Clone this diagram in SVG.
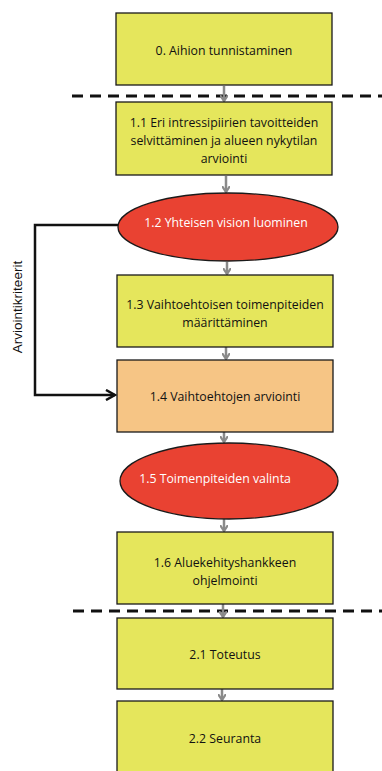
<svg xmlns="http://www.w3.org/2000/svg" width="382" height="771" viewBox="0 0 382 771">
  <style>
    .box { fill: #e5e65c; stroke: #1a1a1a; stroke-width: 1.3; }
    .eval { fill: #f6c585; stroke: #1a1a1a; stroke-width: 1.3; }
    .oval { fill: #e94232; stroke: #1a1a1a; stroke-width: 1.3; }
    .lbl { font-family: "Open Sans", "Liberation Sans", sans-serif; font-size: 12.3px; fill: #111; text-anchor: middle; }
    .wlbl { font-family: "Open Sans", "Liberation Sans", sans-serif; font-size: 12.3px; fill: #fff; text-anchor: middle; }
    .side { font-family: "Liberation Sans", Arial, sans-serif; font-size: 13.5px; fill: #111; text-anchor: middle; }
    .flow { stroke: #8a8a8a; stroke-width: 2.5; fill: none; marker-end: url(#grayHead); }
    .phase { stroke: #111; stroke-width: 3; stroke-dasharray: 11 7; fill: none; }
    .feedback { stroke: #111; stroke-width: 2.5; fill: none; marker-end: url(#blackHead); }
  </style>
  <defs>
    <marker id="grayHead" markerWidth="8" markerHeight="8" refX="6" refY="4" orient="auto" markerUnits="userSpaceOnUse">
      <path d="M0,0 L6,4 L0,8" fill="none" stroke="#8a8a8a" stroke-width="2.2"/>
    </marker>
    <marker id="blackHead" markerWidth="12" markerHeight="12" refX="10" refY="6" orient="auto" markerUnits="userSpaceOnUse">
      <path d="M1,1 L10,6 L1,11" fill="none" stroke="#111" stroke-width="2.5"/>
    </marker>
  </defs>

  <!-- phase separators -->
  <line class="phase" x1="72" y1="96" x2="382" y2="96"/>
  <line class="phase" x1="73" y1="611" x2="382" y2="611"/>

  <!-- connectors -->
  <g id="connectors">
    <line class="flow" x1="224" y1="86" x2="224" y2="101"/>
    <line class="flow" x1="226" y1="176" x2="226" y2="192"/>
    <line class="flow" x1="227" y1="262" x2="227" y2="274"/>
    <line class="flow" x1="226" y1="347" x2="226" y2="359"/>
    <line class="flow" x1="224" y1="432" x2="224" y2="442"/>
    <line class="flow" x1="224" y1="519" x2="224" y2="531"/>
    <line class="flow" x1="223" y1="604" x2="223" y2="617"/>
    <line class="flow" x1="222" y1="689" x2="222" y2="700"/>
    <polyline class="feedback" points="118,225 35,225 35,395 115,395"/>
    <text class="side" transform="translate(22,307) rotate(-90)">Arviointikriteerit</text>
  </g>

  <g id="n0">
    <rect class="box" x="116" y="13" width="216" height="72"/>
    <text class="lbl" x="224" y="55">0. Aihion tunnistaminen</text>
  </g>

  <g id="n1_1">
    <rect class="box" x="116" y="102" width="216" height="73"/>
    <text class="lbl" x="224" y="127">1.1 Eri intressipiirien tavoitteiden</text>
    <text class="lbl" x="224" y="145">selvittäminen ja alueen nykytilan</text>
    <text class="lbl" x="224" y="163">arviointi</text>
  </g>

  <g id="n1_2">
    <ellipse class="oval" cx="228" cy="227" rx="110" ry="34"/>
    <text class="wlbl" x="226" y="227">1.2 Yhteisen vision luominen</text>
  </g>

  <g id="n1_3">
    <rect class="box" x="117" y="275" width="216" height="72"/>
    <text class="lbl" x="225" y="309">1.3 Vaihtoehtoisen toimenpiteiden</text>
    <text class="lbl" x="225" y="327">määrittäminen</text>
  </g>

  <g id="n1_4">
    <rect class="eval" x="117" y="360" width="216" height="72"/>
    <text class="lbl" x="225" y="401">1.4 Vaihtoehtojen arviointi</text>
  </g>

  <g id="n1_5">
    <ellipse class="oval" cx="229" cy="481" rx="109" ry="38"/>
    <text class="wlbl" x="215" y="483">1.5 Toimenpiteiden valinta</text>
  </g>

  <g id="n1_6">
    <rect class="box" x="117" y="532" width="216" height="72"/>
    <text class="lbl" x="225" y="567">1.6 Aluekehityshankkeen</text>
    <text class="lbl" x="225" y="585">ohjelmointi</text>
  </g>

  <g id="n2_1">
    <rect class="box" x="117" y="618" width="216" height="71"/>
    <text class="lbl" x="225" y="659">2.1 Toteutus</text>
  </g>

  <g id="n2_2">
    <rect class="box" x="117" y="701" width="216" height="72"/>
    <text class="lbl" x="225" y="743">2.2 Seuranta</text>
  </g>
</svg>
